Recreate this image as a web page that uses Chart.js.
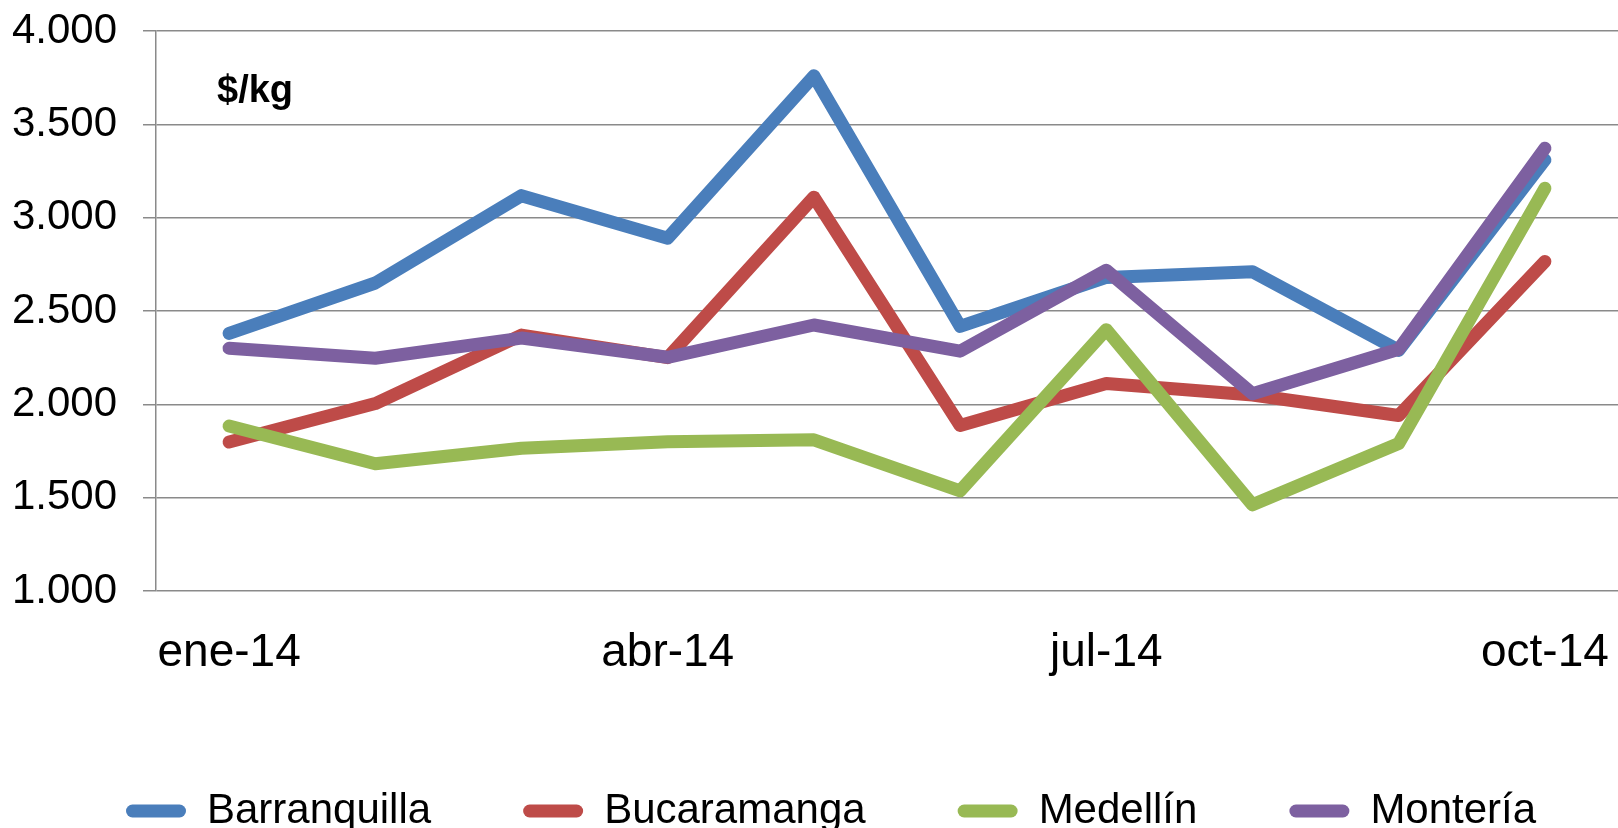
<!DOCTYPE html>
<html>
<head>
<meta charset="utf-8">
<script src="https://cdn.jsdelivr.net/npm/chart.js@4/dist/chart.umd.min.js"></script>
<style>
  html, body { margin: 0; padding: 0; background: #ffffff; }
  #wrap { width: 1618px; height: 828px; }
</style>
</head>
<body>
<div id="wrap"><canvas id="c" width="1618" height="828"></canvas></div>
<script>
// ---- data ----
const categories = ['ene-14','feb-14','mar-14','abr-14','may-14','jun-14','jul-14','ago-14','sep-14','oct-14'];
const barranquilla = [2380, 2650, 3118, 2890, 3760, 2418, 2680, 2710, 2290, 3310];
const bucaramanga  = [1798, 2004, 2371, 2250, 3110, 1887, 2112, 2050, 1940, 2765];
const medellin     = [1884, 1682, 1765, 1800, 1810, 1536, 2400, 1462, 1790, 3158];
const monteria     = [2300, 2247, 2355, 2252, 2425, 2285, 2718, 2057, 2295, 3372];
const seriesNames  = ['Barranquilla', 'Bucaramanga', 'Medellín', 'Montería'];
const seriesColors = ['#4A7EBB', '#BE4B48', '#98B954', '#7D60A0'];
const yTicks = [1000, 1500, 2000, 2500, 3000, 3500, 4000];
const unitLabel = '$/kg';

const FONT = "'Liberation Sans', Arial, Helvetica, sans-serif";
const gridColor = '#8a8a8a';

const seriesValues = [barranquilla, bucaramanga, medellin, monteria];
const datasets = seriesValues.map((vals, i) => ({
  label: seriesNames[i],
  data: vals,
  borderColor: seriesColors[i],
  backgroundColor: seriesColors[i],
  borderWidth: 13,
  borderCapStyle: 'round',
  borderJoinStyle: 'round',
  pointRadius: 0,
  pointHoverRadius: 0,
  tension: 0,
  fill: false,
  order: seriesValues.length - 1 - i
}));

function fmt(v) {
  return String(v).replace(/\B(?=(\d{3})+(?!\d))/g, '.');
}

const unitPlugin = {
  id: 'unitLabel',
  afterLayout(chart) {
    // shift the legend block horizontally
    if (chart.legend) {
      const w = chart.legend.right - chart.legend.left;
      chart.legend.left = 34;
      chart.legend.right = 34 + w;
    }
  },
  afterDraw(chart) {
    const ctx = chart.ctx;
    ctx.save();
    ctx.font = "bold 38px " + FONT;
    ctx.fillStyle = '#000';
    ctx.textBaseline = 'middle';
    ctx.textAlign = 'left';
    ctx.fillText(unitLabel, 217, 92);
    ctx.restore();
  }
};

const defaultGen = Chart.defaults.plugins.legend.labels.generateLabels;

new Chart(document.getElementById('c'), {
  type: 'line',
  data: { labels: categories, datasets: datasets },
  plugins: [unitPlugin],
  options: {
    responsive: false,
    devicePixelRatio: 1,
    animation: false,
    events: [],
    layout: { padding: { top: 31, left: 0, right: 0, bottom: 0 } },
    scales: {
      x: {
        type: 'category',
        offset: true,
        grid: { display: false, drawTicks: false },
        border: { display: false },
        ticks: {
          autoSkip: false,
          maxRotation: 0,
          minRotation: 0,
          padding: 35,
          color: '#000',
          font: { family: FONT, size: 46 },
          callback: function(val, idx) { return idx % 3 === 0 ? categories[idx] : ''; }
        },
        afterFit(scale) {
          scale.height = 107;
          scale.paddingLeft = 0;
          scale.paddingRight = 0;
        }
      },
      y: {
        min: yTicks[0],
        max: yTicks[yTicks.length - 1],
        afterBuildTicks(scale) { scale.ticks = yTicks.map(v => ({ value: v })); },
        grid: { color: gridColor, lineWidth: 1.5, drawTicks: true, tickLength: 13, tickColor: gridColor },
        border: { display: true, color: gridColor, width: 1.5 },
        ticks: {
          padding: 26,
          color: '#000',
          font: { family: FONT, size: 42 },
          callback: function(v) { return fmt(v); }
        },
        afterFit(scale) {
          scale.width = 156;
          scale.paddingTop = 0;
          scale.paddingBottom = 0;
        }
      }
    },
    plugins: {
      tooltip: { enabled: false },
      title: { display: false },
      legend: {
        display: true,
        position: 'bottom',
        align: 'start',
        maxHeight: 130,
        labels: {
          boxWidth: 60,
          boxHeight: 13,
          useBorderRadius: true,
          borderRadius: 6.5,
          padding: 92,
          color: '#000',
          font: { family: FONT, size: 42 },
          sort: (a, b) => a.datasetIndex - b.datasetIndex,
          generateLabels(chart) {
            return defaultGen(chart).map(item => {
              item.lineWidth = 0;
              item.fillStyle = seriesColors[item.datasetIndex];
              item.strokeStyle = seriesColors[item.datasetIndex];
              return item;
            });
          }
        }
      }
    }
  }
});
</script>
</body>
</html>
